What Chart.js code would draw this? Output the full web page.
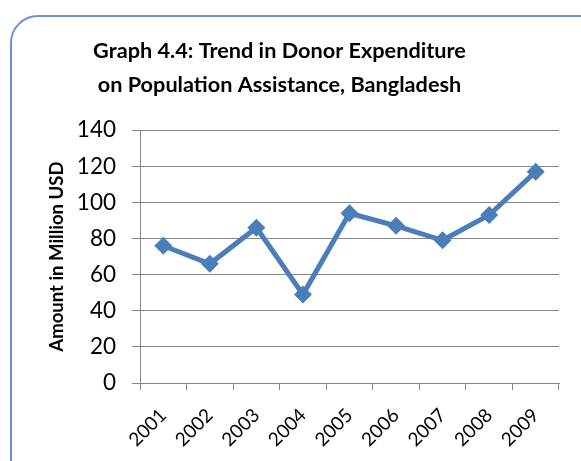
<!DOCTYPE html>
<html>
<head>
    <title>Donor Expenditure Trend</title>
    <script src="https://cdn.jsdelivr.net/npm/chart.js"></script>
    <style>
        body { margin: 0; background: #fff; }
        #frame {
            position: absolute; left: 10px; top: 15px;
            width: 600px; height: 480px;
            border: 2px solid #6a93cc; border-radius: 28px;
        }
        #wrap { position: absolute; left: 0; top: 0; width: 581px; height: 461px; }
    </style>
</head>
<body>
    <div id="frame"></div>
    <div id="wrap"><canvas id="donorChart" width="581" height="461"></canvas></div>
    <script>
        let years = ['2001', '2002', '2003', '2004', '2005', '2006', '2007', '2008', '2009'];
        let expenditure = [76, 66, 86, 49, 94, 87, 79, 93, 117];
        let titleLines = ['Graph 4.4: Trend in Donor Expenditure', 'on Population Assistance, Bangladesh'];
        let axisTitle = 'Amount in Million USD';

        let fontFamily = 'Lato, "Open Sans", sans-serif';
        let gridColor = '#868686';

        let ctx = document.getElementById('donorChart').getContext('2d');
        new Chart(ctx, {
            type: 'line',
            data: {
                labels: years,
                datasets: [{
                    data: expenditure,
                    borderColor: '#4a7ebb',
                    backgroundColor: '#4a7ebb',
                    borderWidth: 5,
                    pointStyle: 'rectRot',
                    pointRadius: 9,
                    pointBorderWidth: 0,
                    tension: 0,
                    fill: false
                }]
            },
            options: {
                responsive: false,
                animation: false,
                layout: { padding: { left: 0, right: 22, top: 0, bottom: 0 } },
                plugins: {
                    legend: { display: false },
                    tooltip: { enabled: false },
                    title: {
                        display: true,
                        text: titleLines,
                        color: '#000',
                        font: { family: fontFamily, size: 21.7, weight: 'bold', lineHeight: 1.57 },
                        padding: { top: 34, bottom: 28 }
                    }
                },
                scales: {
                    x: {
                        offset: true,
                        grid: {
                            offset: true,
                            drawOnChartArea: false,
                            tickLength: 7,
                            color: gridColor
                        },
                        border: { color: gridColor, width: 1 },
                        ticks: {
                            color: '#000',
                            maxRotation: 45,
                            minRotation: 45,
                            padding: 14,
                            font: { family: fontFamily, size: 19 }
                        },
                        afterFit: function (scale) { scale.height = 78; }
                    },
                    y: {
                        min: 0,
                        max: 140,
                        ticks: {
                            stepSize: 20,
                            color: '#000',
                            padding: 16,
                            font: { family: fontFamily, size: 22.5 }
                        },
                        grid: { color: gridColor, tickLength: 8 },
                        border: { color: gridColor, width: 1 },
                        title: {
                            display: true,
                            text: axisTitle,
                            color: '#000',
                            font: { family: fontFamily, size: 18.5, weight: 'bold' },
                            padding: { top: 46, bottom: 0 }
                        },
                        afterFit: function (scale) { scale.width = 140; }
                    }
                }
            }
        });
    </script>
</body>
</html>
